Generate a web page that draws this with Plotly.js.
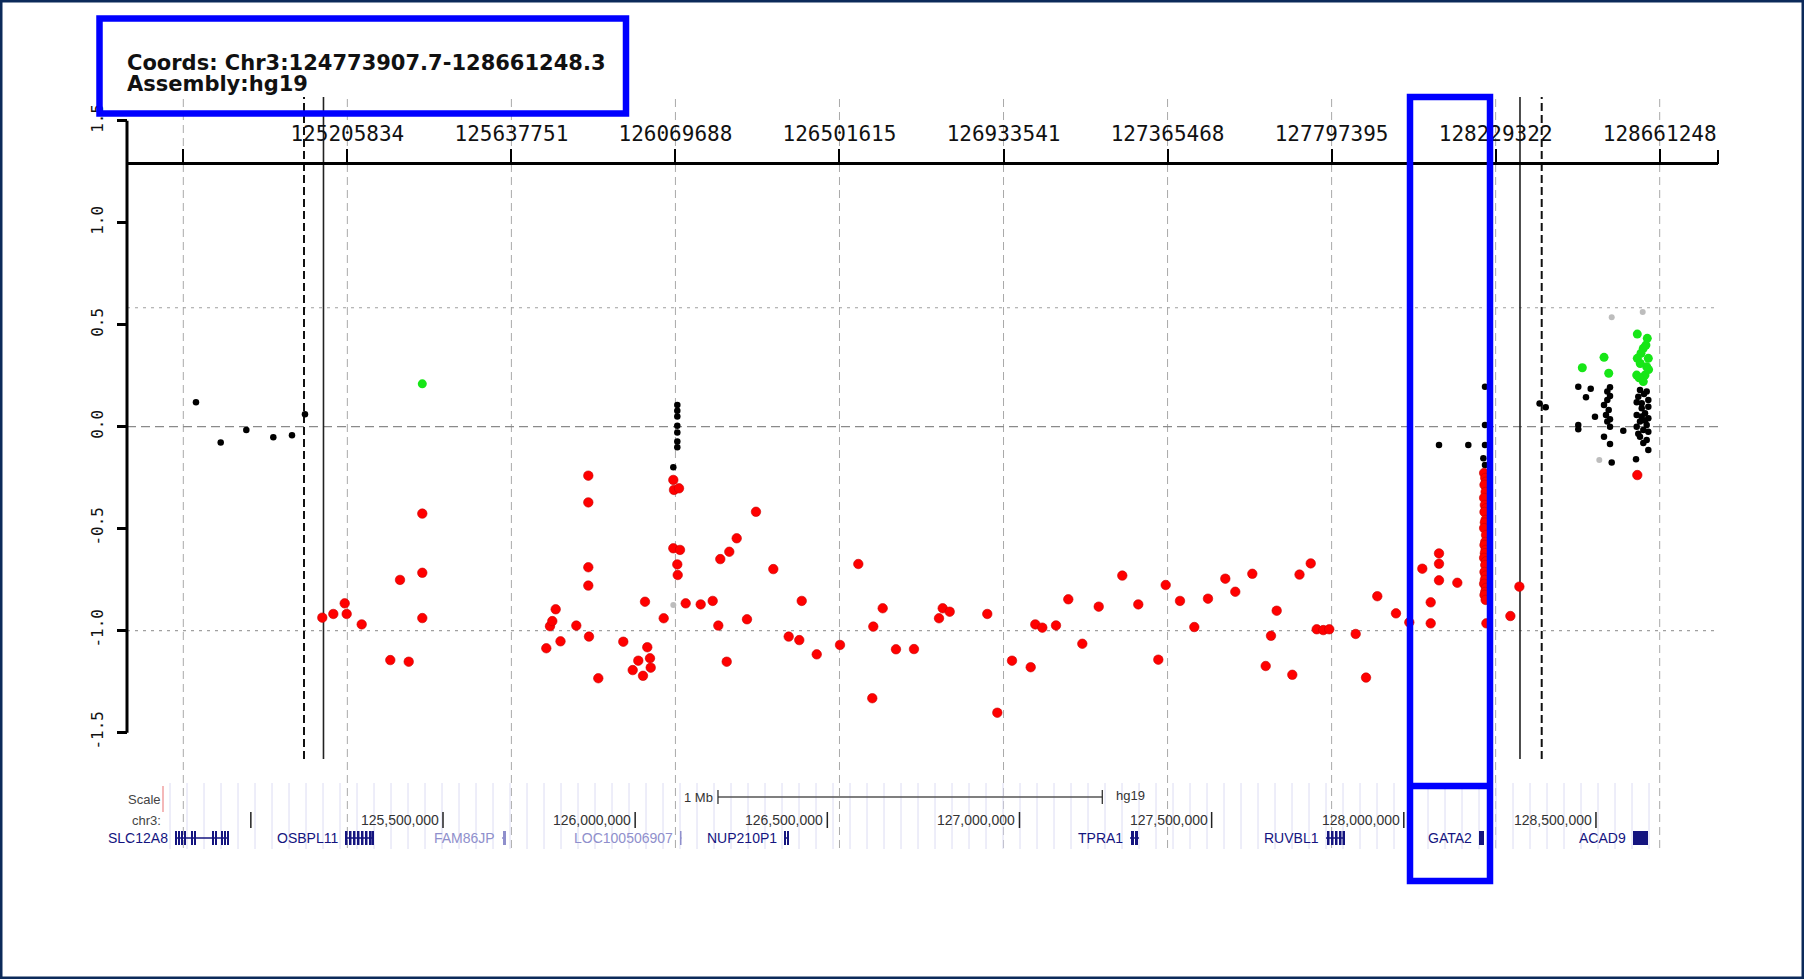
<!DOCTYPE html>
<html><head><meta charset="utf-8">
<script src="https://cdn.plot.ly/plotly-3.0.1.min.js"></script>
<style>html,body{margin:0;padding:0;background:#fff;overflow:hidden}#chart{width:1804px;height:979px}</style>
</head><body><div id="chart"></div>
<script>
// ---------------- data ----------------
const coordsText = 'Coords: Chr3:124773907.7-128661248.3';
const assemblyText = 'Assembly:hg19';

const xTickVals = [124773907.7,125205834,125637751,126069688,126501615,126933541,127365468,127797395,128229322,128661248];
const xTickText = ['','125205834','125637751','126069688','126501615','126933541','127365468','127797395','128229322','128661248'];
const yTickVals = [-1.5,-1,-0.5,0,0.5,1,1.5];
const yTickText = ['-1.5','-1.0','-0.5','0.0','0.5','1.0','1.5'];
const hGridDotted = [0.583,-1];
const hGridDashed = [0];
const markerDashed = [125091700,128350600];
const markerSolid = [125143000,128293400];

const redX = [
 125139900,125168900,125198900,125204100,125243600,125318900,125344500,125367400,125403200,125403200,125403200,
 125729700,125739400,125745500,125754400,125767100,125808700,125840300,125840300,125840300,125840300,125842100,
 125866600,125932400,125957200,125971900,125984300,125989600,125995600,126002700,126004600,126038800,
 126064100,126065900,126079100,126064100,126081700,126074600,126075700,
 126096700,126136200,126167800,126182600,126187800,126204700,126211500,126231000,126258100,126281800,
 126327400,126367900,126395800,126402200,126441700,126503000,126551200,126588000,126590700,126615400,
 126650400,126697800,126763700,126773400,126791800,126890800,126917200,126955900,127005100,127017200,
 127035700,127071700,127104100,127141000,127184200,127246300,127288400,127341100,127360600,127398200,
 127435900,127471900,127517500,127543800,127588600,127623900,127637800,127652800,127693900,127712900,
 127742400,127758200,127775500,127791300,127860800,127888000,127917700,127966900,128002000,128036200,
 128058300,128058300,128080200,128080200,128080200,128128400,
 128199000,128202000,128204000,128200000,128203000,128199000,128201000,128204000,128200000,128203000,
 128201000,128199000,128204000,128202000,128200000,128203000,128201000,128199000,128204000,128202000,
 128200000,128203000,128201000,128199000,128204000,128202000,128200000,128203000,128205000,
 128268100,128291800,128602300
];
const redY = [
 -0.936,-0.918,-0.866,-0.918,-0.969,-1.144,-0.751,-1.152,-0.426,-0.716,-0.938,
 -1.086,-0.978,-0.953,-0.895,-1.052,-0.975,-0.240,-0.371,-0.689,-0.779,-1.029,
 -1.233,-1.054,-1.193,-1.147,-1.221,-0.858,-1.081,-1.135,-1.181,-0.939,
 -0.261,-0.310,-0.302,-0.596,-0.604,-0.675,-0.727,
 -0.866,-0.871,-0.854,-0.975,-0.649,-1.152,-0.613,-0.547,-0.944,-0.417,
 -0.698,-1.029,-1.046,-0.854,-1.116,-1.070,-0.673,-1.331,-0.980,-0.890,
 -1.091,-1.090,-0.939,-0.890,-0.907,-0.918,-1.402,-1.147,-1.179,-0.969,
 -0.985,-0.974,-0.846,-1.064,-0.882,-0.730,-0.871,-1.142,-0.776,-0.854,
 -0.982,-0.843,-0.745,-0.809,-0.721,-1.173,-1.025,-0.902,-1.216,-0.725,
 -0.670,-0.993,-0.997,-0.993,-1.016,-1.230,-0.831,-0.915,-0.959,-0.696,
 -0.861,-0.964,-0.621,-0.672,-0.753,-0.765,
 -0.227,-0.251,-0.270,-0.285,-0.320,-0.349,-0.384,-0.400,-0.418,-0.457,
 -0.470,-0.497,-0.531,-0.565,-0.580,-0.604,-0.620,-0.643,-0.660,-0.678,
 -0.712,-0.730,-0.751,-0.770,-0.790,-0.810,-0.825,-0.849,-0.964,
 -0.928,-0.784,-0.237
];

const blackX = [
 124807300,124872400,124939800,125010900,125060100,125094300,
 126074600,126074600,126074600,126074600,126074600,126074600,126074600,126064100,
 128080200,128157300,128201300,128201300,128201300,128197000,128201300,
 128345000,128361100,
 128446900,128446900,128446900,128479600,128467200,128490900,
 128530400,128523300,128530400,128523300,128514600,128527000,128519900,128530400,128523300,128530400,128514600,128530400,
 128534900,128565400,
 128609400,128627000,128604900,128631300,128613900,128631300,128600700,128622600,128631300,128609400,
 128627000,128600700,128618100,128631300,128609400,128627000,128631300,128598900,
 128620000,128613900,128622600,128604900,128618100,128600700,128613900
];
const blackY = [
 0.120,-0.077,-0.016,-0.052,-0.042,0.061,
 0.106,0.078,0.050,0.005,-0.029,-0.073,-0.101,-0.199,
 -0.090,-0.090,0.196,0.008,-0.090,-0.155,-0.188,
 0.114,0.095,
 0.196,0.008,-0.013,0.186,0.144,0.049,
 0.193,0.172,0.150,0.131,0.106,0.082,0.057,0.036,0.025,0.000,-0.049,-0.085,
 -0.175,-0.020,
 0.180,0.172,0.147,0.131,0.115,0.098,0.057,0.066,0.041,0.025,
 0.008,0.000,-0.016,-0.025,-0.049,-0.065,-0.114,-0.160,
 0.160,0.090,0.030,-0.035,-0.080,0.120,0.050
];

const greenX = [125403200,128457500,128514700,128527000,
 128602300,128628600,128618100,128602300,128631300,128627000,128600700,128622600,128618100,
 128625000,128612000,128610000,128632000,128607000];
const greenY = [0.210,0.289,0.340,0.262,
 0.454,0.433,0.384,0.335,0.335,0.294,0.253,0.253,0.221,
 0.400,0.360,0.310,0.280,0.240];

const grayX = [126064100,128534900,128616500,128502200];
const grayY = [-0.874,0.536,0.562,-0.163];

// gene track (UCSC-style panel)
const geneNames  = ['SLC12A8','OSBPL11','FAM86JP','LOC100506907','NUP210P1','TPRA1','RUVBL1','GATA2','ACAD9'];
const geneStart  = [124802700,125245000,125653500,126116700,126387300,127287600,127797600,128195700,128596400];
const geneEnd    = [124943200,125320500,125664000,126120600,126400300,127311000,127847000,128208700,128635400];
const geneExonW  = [5200,6500,7800,3900,5200,7800,6500,13000,39000];
const geneExons  = [
 [124802700,124810500,124818300,124826100,124844300,124852100,124898900,124906700,124922400,124930200,124938000],
 [125245000,125255400,125265800,125276200,125286600,125297000,125307500,125314000],
 [125656100],
 [126116700],
 [126387300,126395100],
 [127290200,127300600],
 [127800200,127810600,127821000,127831400,127840500],
 [128195700],
 [128596400]
];
const geneLight  = [false,false,true,true,false,false,false,false,false];
const chrTickPos  = [125000000,125500000,126000000,126500000,127000000,127500000,128000000,128500000];
const chrTickText = ['','125,500,000','126,000,000','126,500,000','127,000,000','127,500,000','128,000,000','128,500,000'];
const scaleBarStart = 126215500;
const scaleBarLen = 1000000;

// ---------------- layout helpers ----------------
const W = 1804, H = 979, ML = 127, MR = 86, MT = 97, MB = 129;
const PW = W - ML - MR, PH = H - MT - MB;
const P = px => (px - ML) / PW;          // pixel x -> paper x
const Q = py => (H - MB - py) / PH;      // pixel y -> paper y
const BLUE = '#0000ff';
const mono = 'DejaVu Sans Mono, monospace';
const sans = 'Liberation Sans, Arial, sans-serif';

const shapes = [];
const annotations = [];

// vertical dashed grid lines
xTickVals.forEach(v => shapes.push({type:'line', xref:'x', yref:'paper', x0:v, x1:v, y0:Q(848), y1:Q(97),
  line:{color:'#a9a9a9', width:1, dash:'8px,5px'}, layer:'below'}));
// horizontal grid lines
hGridDotted.forEach(v => shapes.push({type:'line', xref:'paper', yref:'y', x0:0, x1:1, y0:v, y1:v,
  line:{color:'#a0a0a0', width:1.2, dash:'3px,5px'}, layer:'below'}));
hGridDashed.forEach(v => shapes.push({type:'line', xref:'paper', yref:'y', x0:0, x1:1, y0:v, y1:v,
  line:{color:'#8a8a8a', width:1.3, dash:'9px,5px'}, layer:'below'}));
// locus marker lines
markerDashed.forEach(v => shapes.push({type:'line', xref:'x', yref:'paper', x0:v, x1:v, y0:Q(759), y1:Q(97),
  line:{color:'#111', width:2, dash:'8px,4px'}, layer:'below'}));
markerSolid.forEach(v => shapes.push({type:'line', xref:'x', yref:'paper', x0:v, x1:v, y0:Q(759), y1:Q(97),
  line:{color:'#222', width:1.6}, layer:'below'}));
// y axis line from -1.5 to 1.5
shapes.push({type:'line', xref:'paper', yref:'y', x0:0, x1:0, y0:-1.5, y1:1.5, line:{color:'#000', width:3}});
// top axis end ticks
shapes.push({type:'line', xref:'paper', yref:'paper', x0:0, x1:0, y0:Q(163), y1:Q(151), line:{color:'#000', width:2}});
shapes.push({type:'line', xref:'paper', yref:'paper', x0:1, x1:1, y0:Q(164), y1:Q(150), line:{color:'#000', width:2}});

// ---------- gene track ----------
const guideX = [], guideY = [];
for (let px = 170; px <= 1662; px += 17) {
  const bp = 124677768 + (px - ML) * 2602;
  guideX.push(bp, bp, null); guideY.push(783, 849, null);
}
shapes.push({type:'line', xref:'paper', yref:'paper', x0:P(163), x1:P(163), y0:Q(786), y1:Q(812), line:{color:'#f0a0a0', width:1.5}});
shapes.push({type:'line', xref:'x2', yref:'y2', x0:scaleBarStart, x1:scaleBarStart+scaleBarLen, y0:797, y1:797, line:{color:'#555', width:1.3}});
[scaleBarStart, scaleBarStart+scaleBarLen].forEach(v => shapes.push({type:'line', xref:'x2', yref:'y2', x0:v, x1:v, y0:790, y1:804, line:{color:'#333', width:1.3}}));
annotations.push({xref:'x2', yref:'y2', x:scaleBarStart, y:797, xanchor:'right', yanchor:'middle', xshift:-3, text:'1 Mb', showarrow:false, font:{family:sans, size:13, color:'#333'}});
annotations.push({xref:'x2', yref:'y2', x:scaleBarStart+scaleBarLen, y:795, xanchor:'left', yanchor:'middle', xshift:12, text:'hg19', showarrow:false, font:{family:sans, size:13, color:'#333'}});
annotations.push({xref:'paper', yref:'y2', x:P(163), y:799, xanchor:'right', yanchor:'middle', text:'Scale', showarrow:false, font:{family:sans, size:13, color:'#444'}});
annotations.push({xref:'paper', yref:'y2', x:P(163), y:820, xanchor:'right', yanchor:'middle', text:'chr3:', showarrow:false, font:{family:sans, size:13, color:'#444'}});
chrTickPos.forEach((v, i) => {
  shapes.push({type:'line', xref:'x2', yref:'y2', x0:v, x1:v, y0:812, y1:828, line:{color:'#222', width:1.5}});
  if (chrTickText[i]) annotations.push({xref:'x2', yref:'y2', x:v, y:820, xanchor:'right', yanchor:'middle', xshift:-2,
    text:chrTickText[i], showarrow:false, font:{family:sans, size:14, color:'#333'}});
});
geneNames.forEach((g, i) => {
  const col = geneLight[i] ? '#8f8fcc' : '#14147f';
  shapes.push({type:'line', xref:'x2', yref:'y2', x0:geneStart[i], x1:geneEnd[i], y0:838, y1:838, line:{color:col, width:1.5}});
  geneExons[i].forEach(e => shapes.push({type:'rect', xref:'x2', yref:'y2', x0:e, x1:e+geneExonW[i], y0:831, y1:845,
    line:{width:0}, fillcolor:col}));
  annotations.push({xref:'x2', yref:'y2', x:geneStart[i], y:838, xanchor:'right', yanchor:'middle', xshift:-5,
    text:g, showarrow:false, font:{family:sans, size:14, color:col}});
});

// ---------- header box & highlight ----------
shapes.push({type:'rect', xref:'paper', yref:'paper', x0:P(99.5), x1:P(626), y0:Q(113.5), y1:Q(18.5),
  line:{color:BLUE, width:6.5}, fillcolor:'rgba(0,0,0,0)', layer:'above'});
shapes.push({type:'rect', xref:'paper', yref:'paper', x0:P(1410), x1:P(1490), y0:Q(881), y1:Q(97),
  line:{color:BLUE, width:6.5}, fillcolor:'rgba(0,0,0,0)', layer:'above'});
shapes.push({type:'line', xref:'paper', yref:'paper', x0:P(1410), x1:P(1490), y0:Q(786), y1:Q(786),
  line:{color:BLUE, width:6.5}, layer:'above'});
shapes.push({type:'rect', xref:'paper', yref:'paper', x0:P(0), x1:P(W), y0:Q(H), y1:Q(0),
  line:{color:'#0c2a5a', width:5}, fillcolor:'rgba(0,0,0,0)', layer:'above'});

annotations.push({xref:'paper', yref:'paper', x:P(125), y:Q(63), xanchor:'left', yanchor:'middle', text:'<b>'+coordsText+'</b>',
  showarrow:false, font:{family:'DejaVu Sans, sans-serif', size:21, color:'#111'}});
annotations.push({xref:'paper', yref:'paper', x:P(125), y:Q(84), xanchor:'left', yanchor:'middle', text:'<b>'+assemblyText+'</b>',
  showarrow:false, font:{family:'DejaVu Sans, sans-serif', size:21, color:'#111'}});

// ---------------- traces ----------------
const traces = [
  {x:guideX, y:guideY, xaxis:'x2', yaxis:'y2', mode:'lines', line:{color:'#dcdcf3', width:1}, hoverinfo:'skip'},
  {x:grayX, y:grayY, mode:'markers', marker:{color:'#bdbdbd', size:6}},
  {x:blackX, y:blackY, mode:'markers', marker:{color:'#000', size:6.5}},
  {x:greenX, y:greenY, mode:'markers', marker:{color:'#17e617', size:9}},
  {x:redX, y:redY, mode:'markers', marker:{color:'#ff0000', size:9.5, line:{color:'#c80000', width:0.6}}}
];

const layout = {
  width:W, height:H, margin:{l:ML, r:MR, t:MT, b:MB, pad:0},
  paper_bgcolor:'#fff', plot_bgcolor:'rgba(0,0,0,0)', showlegend:false, hovermode:false,
  xaxis:{domain:[0,1], range:[124625670,128814773], anchor:'free', position:Q(163), side:'top',
    showline:true, linecolor:'#000', linewidth:3, ticks:'outside', ticklen:13, tickwidth:2, tickcolor:'#000',
    tickmode:'array', tickvals:xTickVals, ticktext:xTickText, ticklabelstandoff:0,
    tickfont:{family:mono, size:21, color:'#111'}, showgrid:false, zeroline:false, automargin:false, fixedrange:true},
  yaxis:{domain:[Q(760),1], range:[-1.6338,1.6162], anchor:'free', position:0,
    showline:false, ticks:'outside', ticklen:10, tickwidth:3, tickcolor:'#000',
    tickmode:'array', tickvals:yTickVals, ticktext:yTickText, tickangle:-90, ticklabelstandoff:8,
    tickfont:{family:mono, size:16, color:'#111'}, showgrid:false, zeroline:false, automargin:false, fixedrange:true},
  xaxis2:{domain:[0,1], range:[124677768,128817550], anchor:'y2', visible:false, fixedrange:true},
  yaxis2:{domain:[0,Q(760)], range:[850,760], anchor:'x2', visible:false, fixedrange:true},
  shapes:shapes, annotations:annotations
};

Plotly.newPlot('chart', traces, layout, {displayModeBar:false, staticPlot:true});
</script>
</body></html>
